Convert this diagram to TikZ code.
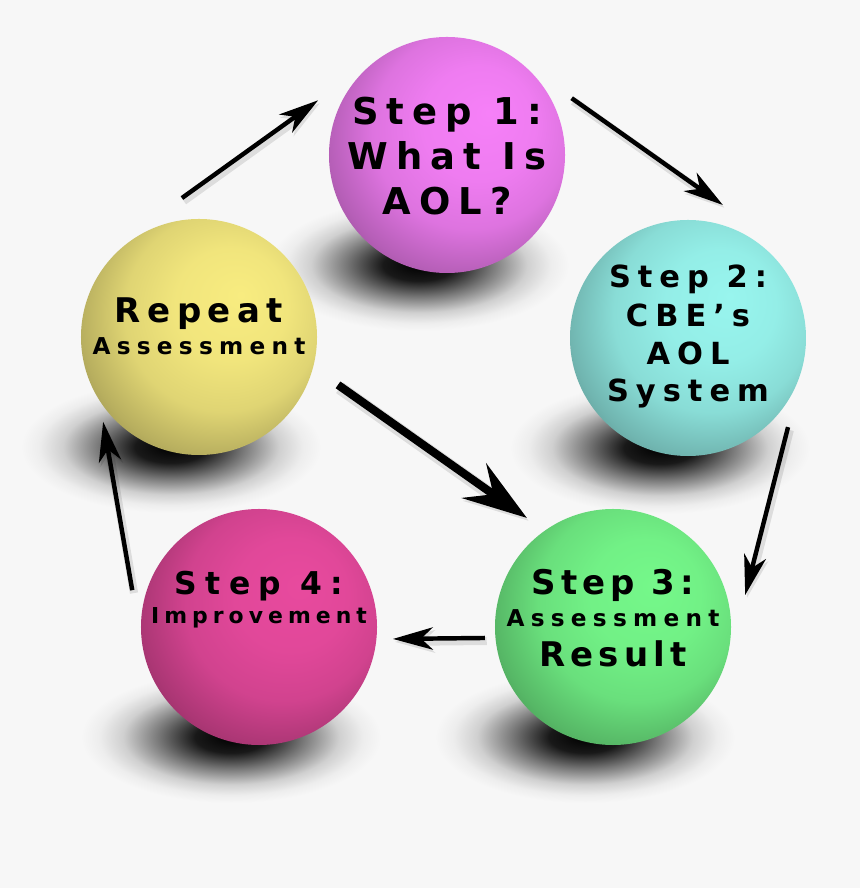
\documentclass[tikz,border=0pt]{standalone}
\usepackage{fontspec}
\usetikzlibrary{arrows.meta}

\newfontfamily\ballface{DejaVu Sans Bold}
\newcommand\ballsize[2]{\ballface\fontsize{#1pt}{#1pt}\selectfont\addfontfeature{LetterSpace=#2}}

\definecolor{paper}{RGB}{247,247,247}
\definecolor{aolcol}{RGB}{246,128,248}
\definecolor{cbecol}{RGB}{152,245,238}
\definecolor{rescol}{RGB}{117,248,138}
\definecolor{impcol}{RGB}{232,74,158}
\definecolor{repcol}{RGB}{248,236,128}
\colorlet{ballcol}{aolcol}

% sphere look: light upper right, dark rim lower left (rim at 25bp)
\pgfdeclareradialshading[ballcol]{sphere}{\pgfpoint{9bp}{9bp}}{%
	color(0bp)=(ballcol); color(12bp)=(ballcol!97!black);
	color(21bp)=(ballcol!90!black); color(29bp)=(ballcol!74!black);
	color(38bp)=(ballcol!50!black); color(50bp)=(ballcol!50!black)}
% soft shadow under a sphere
\pgfdeclareradialshading{blurshadow}{\pgfpointorigin}{%
	color(0bp)=(black); color(6bp)=(black!90!paper);
	color(12bp)=(black!52!paper); color(18bp)=(black!16!paper);
	color(22bp)=(black!4!paper); color(25bp)=(paper); color(50bp)=(paper)}

\begin{document}
\begin{tikzpicture}[x=0.03cm, y=0.03cm,
	ball/.style={circle, minimum size=7.08cm, inner sep=0pt, shading=sphere},
	tint/.code={\colorlet{ballcol}{#1}},
	lbl/.style 2 args={anchor=base, inner sep=0pt, font=\ballsize{#1}{#2}},
	glow/.style={preaction={draw=black, opacity=.1, line width=#1,
		transform canvas={shift={(1.5pt,-2.5pt)}}}},
	flow/.style={glow=7pt, line width=3.8pt, -{Stealth[length=34pt, width=19pt, inset=10pt]}},
	bigflow/.style={glow=11pt, line width=7pt, -{Stealth[length=55pt, width=36pt, inset=20pt]}}]
	
	\fill[paper] (0,0) rectangle (860,888);
	
	\coordinate (c-aol) at (447,733);
	\coordinate (c-cbe) at (688,550);
	\coordinate (c-res) at (613,261);
	\coordinate (c-imp) at (259,261);
	\coordinate (c-rep) at (199,551);
	
	%---------------------------------------------
	
	\foreach \s in {aol,cbe,res,imp,rep} {
		\shade[shading=blurshadow] ([shift={(-28,-110)}]c-\s) ellipse [x radius=150, y radius=66];
	}
	
	%---------------------------------------------
	
	\node[ball, tint=aolcol] (aol) at (c-aol) {};
	\node[ball, tint=cbecol] (cbe) at (c-cbe) {};
	\node[ball, tint=rescol] (res) at (c-res) {};
	\node[ball, tint=impcol] (imp) at (c-imp) {};
	\node[ball, tint=repcol] (rep) at (c-rep) {};
	
	%---------------------------------------------
	
	\node[lbl={31.5}{22}] (aol1) at ([shift={(0,30)}]aol.center) {Step 1:};
	\node[lbl={31.5}{22}] (aol2) at ([shift={(0,-15)}]aol.center) {What Is};
	\node[lbl={31.5}{22}] (aol3) at ([shift={(0,-60)}]aol.center) {AOL?};
	
	\node[lbl={26}{23}] (cbe1) at ([shift={(0,50)}]cbe.center) {Step 2:};
	\node[lbl={26}{23}] (cbe2) at ([shift={(0,11)}]cbe.center) {CBE’s};
	\node[lbl={26}{23}] (cbe3) at ([shift={(0,-27)}]cbe.center) {AOL};
	\node[lbl={26}{23}] (cbe4) at ([shift={(0,-64)}]cbe.center) {System};
	
	\node[lbl={29}{15}] (res1) at ([shift={(0,32)}]res.center) {Step 3:};
	\node[lbl={19.8}{27}] (res2) at ([shift={(0,0)}]res.center) {Assessment};
	\node[lbl={29}{15}] (res3) at ([shift={(0,-40)}]res.center) {Result};
	
	\node[lbl={26.8}{27}] (imp1) at ([shift={(0,32)}]imp.center) {Step 4:};
	\node[lbl={18.7}{23}] (imp2) at ([shift={(0,3)}]imp.center) {Improvement};
	
	\node[lbl={29}{19}] (rep1) at ([shift={(0,14)}]rep.center) {Repeat};
	\node[lbl={19.8}{27}] (rep2) at ([shift={(0,-18)}]rep.center) {Assessment};
	
	%---------------------------------------------
	
	\draw[flow] ([shift={(97:140)}]rep.center) -- ([shift={(157:140)}]aol.center);
	\draw[flow] ([shift={(24.5:137)}]aol.center) -- ([shift={(75.3:137.5)}]cbe.center);
	\draw[flow] ([shift={(-41.7:134)}]cbe.center) -- ([shift={(13.6:136)}]res.center);
	\draw[flow] ([shift={(184.9:128.5)}]res.center) -- ([shift={(-5.1:134.5)}]imp.center);
	\draw[flow] ([shift={(163.8:132)}]imp.center) -- ([shift={(221.5:128)}]rep.center);
	\draw[bigflow] ([shift={(-19:147)}]rep.center) -- ([shift={(128.3:139)}]res.center);
	
\end{tikzpicture}
\end{document}
